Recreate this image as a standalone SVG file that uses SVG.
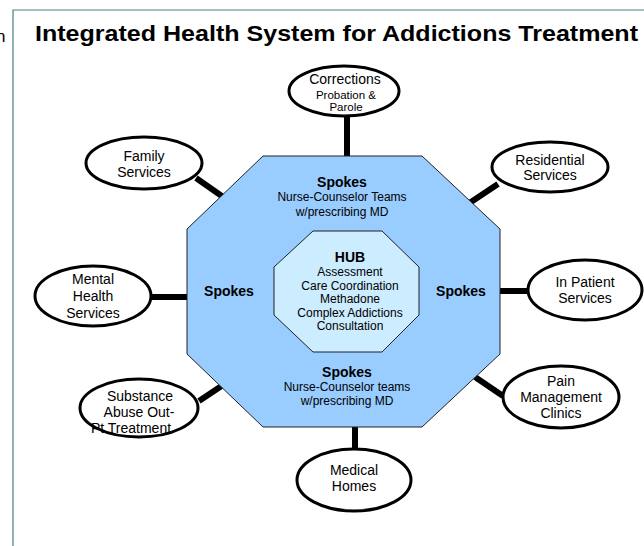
<svg xmlns="http://www.w3.org/2000/svg" width="644" height="546" viewBox="0 0 644 546">
<style>
text{font-family:"Liberation Sans",Arial,Helvetica,sans-serif;fill:#000;text-anchor:middle}
.title{font-size:22px;font-weight:bold;text-anchor:start}
.b{font-size:14px;font-weight:bold}
.s{font-size:12px}
.e{font-size:14px}
.es{font-size:11.5px}
.node ellipse{fill:#fff;stroke:#000;stroke-width:3}
.conn line{stroke:#000;stroke-width:6}
.oct{fill:#99CCFF;stroke:#222;stroke-width:1}
.hub{fill:#CCECFF;stroke:#222;stroke-width:1}
</style>
<rect width="644" height="546" fill="#fff"/>
<text x="-4" y="42" style="font-size:17px;text-anchor:start">n</text>
<path d="M13 546 V10 H644" fill="none" stroke="#4d7f80" stroke-width="1.2"/>
<text class="title" x="35" y="41" textLength="603" lengthAdjust="spacingAndGlyphs">Integrated Health System for Addictions Treatment</text>

<g id="connectors" class="conn">
<line x1="347" y1="115" x2="347" y2="158"/>
<line x1="196" y1="178" x2="226" y2="199"/>
<line x1="498" y1="184" x2="468" y2="204"/>
<line x1="151" y1="297" x2="189" y2="297"/>
<line x1="498" y1="291" x2="529" y2="291"/>
<line x1="199" y1="401" x2="226" y2="383"/>
<line x1="475" y1="377" x2="503" y2="396"/>
<line x1="355" y1="425" x2="355" y2="450"/>
</g>

<g id="spokes">
<polygon class="oct" points="263,156 422,156 500,229 500,354 422,427 263,427 187,354 187,229"/>
<text class="b" x="342" y="187">Spokes</text>
<text class="s" x="342" y="201">Nurse-Counselor Teams</text>
<text class="s" x="342" y="216">w/prescribing MD</text>
<text class="b" x="229" y="296">Spokes</text>
<text class="b" x="461" y="296">Spokes</text>
<text class="b" x="347" y="377">Spokes</text>
<text class="s" x="347" y="391">Nurse-Counselor teams</text>
<text class="s" x="347" y="405">w/prescribing MD</text>
</g>

<g id="hub">
<polygon class="hub" points="313,231 382,231 419,267 419,315 382,352 313,352 274,315 274,267"/>
<text class="b" x="350" y="262">HUB</text>
<text class="s" x="350" y="276">Assessment</text>
<text class="s" x="350" y="290">Care Coordination</text>
<text class="s" x="350" y="303">Methadone</text>
<text class="s" x="350" y="317">Complex Addictions</text>
<text class="s" x="350" y="330">Consultation</text>
</g>

<g id="corrections" class="node">
<ellipse cx="344" cy="91" rx="55" ry="25"/>
<text class="e" x="345" y="84">Corrections</text>
<text class="es" x="346" y="99">Probation &amp;</text>
<text class="es" x="346" y="111">Parole</text>
</g>
<g id="family" class="node">
<ellipse cx="144" cy="163" rx="58" ry="26"/>
<text class="e" x="144" y="161">Family</text>
<text class="e" x="144" y="177">Services</text>
</g>
<g id="residential" class="node">
<ellipse cx="550" cy="167" rx="58" ry="25"/>
<text class="e" x="550" y="165">Residential</text>
<text class="e" x="550" y="180">Services</text>
</g>
<g id="mental" class="node">
<ellipse cx="93" cy="296" rx="58" ry="30"/>
<text class="e" x="93" y="284">Mental</text>
<text class="e" x="93" y="301">Health</text>
<text class="e" x="93" y="318">Services</text>
</g>
<g id="inpatient" class="node">
<ellipse cx="585" cy="290" rx="57" ry="30"/>
<text class="e" x="585" y="287">In Patient</text>
<text class="e" x="585" y="303">Services</text>
</g>
<g id="substance" class="node">
<ellipse cx="139" cy="408" rx="59" ry="29"/>
<text class="e" x="140" y="401">Substance</text>
<text class="e" x="139" y="417">Abuse Out-</text>
<text class="e" x="131" y="433">Pt Treatment</text>
</g>
<g id="pain" class="node">
<ellipse cx="561" cy="397" rx="58" ry="31"/>
<text class="e" x="561" y="386">Pain</text>
<text class="e" x="561" y="402">Management</text>
<text class="e" x="561" y="418">Clinics</text>
</g>
<g id="medical" class="node">
<ellipse cx="354" cy="480" rx="57" ry="31"/>
<text class="e" x="354" y="475">Medical</text>
<text class="e" x="354" y="491">Homes</text>
</g>
</svg>
